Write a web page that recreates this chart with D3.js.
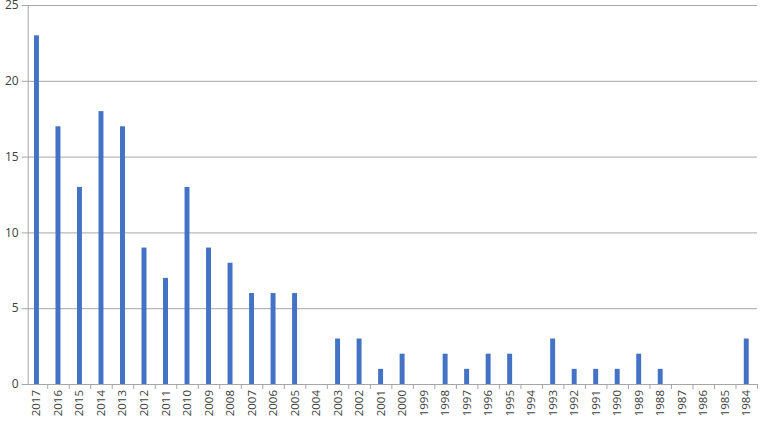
<!DOCTYPE html>
<html>
<head>
<meta charset="utf-8">
<script src="https://cdn.jsdelivr.net/npm/d3@7"></script>
<style>
  body { margin: 0; background: #fff; }
  text { font-family: "Open Sans", "Liberation Sans", sans-serif; fill: #404040; }
</style>
</head>
<body>
<div id="chart"></div>
<script>
// Years shown along the x axis (newest first, as in the source)
const years = ["2017","2016","2015","2014","2013","2012","2011","2010","2009","2008","2007",
  "2006","2005","2004","2003","2002","2001","2000","1999","1998","1997","1996","1995",
  "1994","1993","1992","1991","1990","1989","1988","1987","1986","1985","1984"];
const counts = [23,17,13,18,17,9,7,13,9,8,6,6,6,0,3,3,1,2,0,2,1,2,2,0,3,1,1,1,2,1,0,0,0,3];
const yTicks = [0,5,10,15,20,25];

const W = 761, H = 423;
const margin = { top: 5, right: 4, bottom: 39, left: 25.7 };
const width = W - margin.left - margin.right;
const height = H - margin.top - margin.bottom;

const svg = d3.select("#chart").append("svg")
    .attr("width", W)
    .attr("height", H);

const g = svg.append("g")
    .attr("transform", `translate(${margin.left},${margin.top})`);

const x = d3.scaleBand()
    .domain(years)
    .range([0, width])
    .paddingInner(0.77)
    .paddingOuter(0.385);

const y = d3.scaleLinear()
    .domain([0, 25])
    .range([height, 0]);

// gridlines
g.append("g")
    .selectAll("line")
    .data(yTicks.filter(d => d > 0))
    .enter().append("line")
    .attr("x1", -4)
    .attr("x2", width)
    .attr("y1", d => y(d) + 0.5)
    .attr("y2", d => y(d) + 0.5)
    .attr("stroke", "#a6a6a6")
    .attr("stroke-width", 1);

// y labels
g.append("g")
    .selectAll("text")
    .data(yTicks)
    .enter().append("text")
    .attr("x", -7)
    .attr("y", d => y(d))
    .attr("dy", "0.35em")
    .attr("text-anchor", "end")
    .style("font-size", "12px")
    .text(d => d);

// bars
g.selectAll(".bar")
    .data(counts)
    .enter().append("rect")
    .attr("class", "bar")
    .attr("x", (d, i) => x(years[i]))
    .attr("y", d => y(d))
    .attr("width", x.bandwidth())
    .attr("height", d => height - y(d))
    .attr("fill", "#4472c4");

// y axis line
g.append("line")
    .attr("x1", 2.5).attr("x2", 2.5)
    .attr("y1", 0).attr("y2", height)
    .attr("stroke", "#a6a6a6");

// x axis line + category dividers
const step = x.step();
const x0 = x(years[0]) - x.paddingOuter() * step;
g.append("line")
    .attr("x1", -4).attr("x2", width)
    .attr("y1", height + 0.5).attr("y2", height + 0.5)
    .attr("stroke", "#a6a6a6");

g.append("g")
    .selectAll("line")
    .data(d3.range(1, years.length + 1))
    .enter().append("line")
    .attr("x1", i => x0 + i * step + 0.5)
    .attr("x2", i => x0 + i * step + 0.5)
    .attr("y1", height)
    .attr("y2", height + 5)
    .attr("stroke", "#a6a6a6");

// x labels rotated
g.append("g")
    .selectAll("text")
    .data(years)
    .enter().append("text")
    .attr("transform", d => `translate(${x(d) + x.bandwidth() / 2 + 4},${height + 6}) rotate(-90)`)
    .attr("text-anchor", "end")
    .style("font-size", "11.5px")
    .text(d => d);
</script>
</body>
</html>
